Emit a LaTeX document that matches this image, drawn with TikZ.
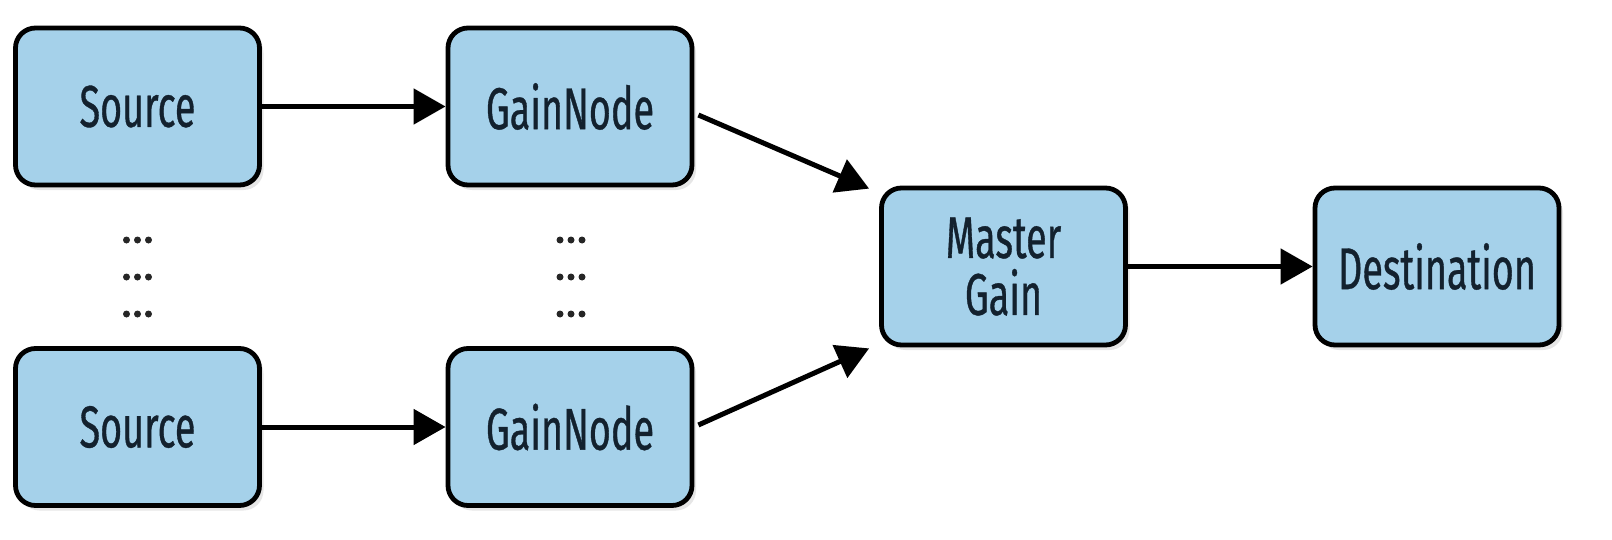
\documentclass[tikz,border=0pt]{standalone}
\usepackage{fontspec}
\setmainfont{Fira Sans}[FakeStretch=0.64, FakeBold=0.6]
\usetikzlibrary{arrows.meta,shadows}
\definecolor{boxfill}{HTML}{A5D1EA}
\definecolor{boxtext}{HTML}{13212E}
\begin{document}
\begin{tikzpicture}[x=0.5pt,y=-0.5pt,
  block/.style={draw=black, line width=2.4pt, rounded corners=10pt, fill=boxfill,
    minimum width=122pt, minimum height=78.5pt, inner sep=0pt,
    text=boxtext, align=center, font=\fontsize{29.5}{28.5}\selectfont,
    drop shadow={opacity=0.2, shadow xshift=2pt, shadow yshift=-2.5pt}},
  link/.style={line width=2.5pt, -{Triangle[length=16pt,width=17.5pt]}},
  dot/.style={fill=black!85}]
  \useasboundingbox (0,0) rectangle (1612,540);

  % upper chain
  \node[block] (s1) at (137.5,106.5) {Source};
  \node[block] (g1) at (570,106.5) {GainNode};
  % lower chain
  \node[block] (s2) at (137.5,427) {Source};
  \node[block] (g2) at (570,427) {GainNode};
  % mixing stage and output
  \node[block] (m) at (1003.5,266.5) {Master\\Gain};
  \node[block] (d) at (1437,266.5) {Destination};

  % rows of three dots standing for the elided sources and gains
  \foreach \yy in {240,277,314}
    \foreach \cx in {137.5,571}
      \foreach \dx in {-11,0,11}
        \fill[dot] (\cx+\dx,\yy) circle[radius=1.75pt];

  \draw[link] (s1) -- (g1);
  \draw[link] (s2) -- (g2);
  \draw[link] ([shift={(4,8.5)}]g1.east) -- ([shift={(-10,3)}]m.north west);
  \draw[link] ([shift={(4,-2)}]g2.east) -- ([shift={(-10,1)}]m.south west);
  \draw[link] (m) -- (d);
\end{tikzpicture}
\end{document}
